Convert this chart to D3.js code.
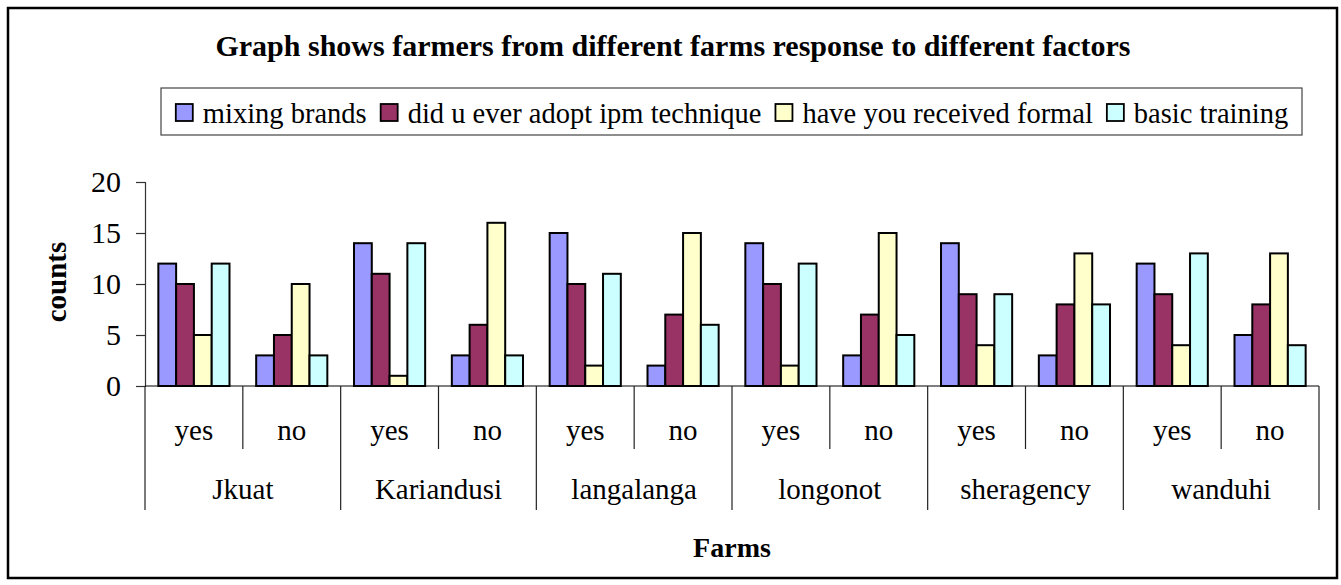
<!DOCTYPE html>
<html>
<head>
<meta charset="utf-8">
<script src="https://cdn.jsdelivr.net/npm/d3@7"></script>
<style>
  html, body { margin: 0; padding: 0; background: #fff; }
  svg text { font-family: "Liberation Serif", "Times New Roman", serif; fill: #000; }
</style>
</head>
<body>
<svg id="chart" width="1341" height="585"></svg>
<script>
// Farm names and response categories
const farms = ["Jkuat", "Kariandusi", "langalanga", "longonot", "sheragency", "wanduhi"];
const responses = ["yes", "no"];

// Series names and fills
const seriesNames = ["mixing brands", "did u ever adopt ipm technique", "have you received formal", "basic training"];
const seriesColors = ["#9999FF", "#993366", "#FFFFCC", "#CCFFFF"];

// Counts per series, one value per farm/response pair (Jkuat yes, Jkuat no, Kariandusi yes, ...)
const mixingBrands = [12, 3, 14, 3, 15, 2, 14, 3, 14, 3, 12, 5];
const adoptIpm     = [10, 5, 11, 6, 10, 7, 10, 7, 9, 8, 9, 8];
const formalTrain  = [5, 10, 1, 16, 2, 15, 2, 15, 4, 13, 4, 13];
const basicTrain   = [12, 3, 14, 3, 11, 6, 12, 5, 9, 8, 13, 4];

const yTicks = [0, 5, 10, 15, 20];

const seriesValues = [mixingBrands, adoptIpm, formalTrain, basicTrain];

// Build rows keyed by farm|response
const rows = [];
farms.forEach((f, fi) => responses.forEach((r, ri) => {
  const i = fi * responses.length + ri;
  rows.push({ key: f + "|" + r, farm: f, response: r, values: seriesValues.map(s => s[i]) });
}));

const svg = d3.select("#chart");

// Outer frame
svg.append("rect")
  .attr("x", 8).attr("y", 8).attr("width", 1329).attr("height", 570)
  .attr("fill", "#fff").attr("stroke", "#000").attr("stroke-width", 2.5);

// Title
svg.append("text")
  .attr("x", 673).attr("y", 56)
  .attr("text-anchor", "middle")
  .attr("font-weight", "bold")
  .attr("font-size", 30)
  .text("Graph shows farmers from different farms response to different factors");

// Plot geometry
const plot = { left: 145, right: 1319, top: 182, bottom: 386 };

// One slot per farm/response pair; bars occupy 4 of 5.5 bar widths (gap width 150%)
const slot = d3.scaleBand()
  .domain(rows.map(d => d.key))
  .range([plot.left, plot.right]);

const x1 = d3.scaleBand()
  .domain(d3.range(seriesNames.length))
  .range([0, slot.bandwidth() * 4 / 5.5]);

const y = d3.scaleLinear().domain([0, 20]).range([plot.bottom, plot.top]);

// Y axis
const yAxis = d3.axisLeft(y).tickValues(yTicks).tickSize(9).tickPadding(15);
const yG = svg.append("g")
  .attr("transform", `translate(${plot.left},0)`)
  .call(yAxis);
yG.select(".domain").attr("stroke", "#333").attr("stroke-width", 1.2);
yG.selectAll(".tick line").attr("stroke", "#333").attr("stroke-width", 1.2);
yG.selectAll(".tick text")
  .attr("font-family", "Liberation Serif, serif")
  .attr("font-size", 30)
  .attr("fill", "#000");

// Y axis title
svg.append("text")
  .attr("transform", `translate(66,${(plot.top + plot.bottom) / 2 - 2}) rotate(-90)`)
  .attr("text-anchor", "middle")
  .attr("font-weight", "bold")
  .attr("font-size", 29)
  .text("counts");

// Bars
const gap = (slot.bandwidth() - x1.range()[1]) / 2;
const groups = svg.append("g").selectAll("g")
  .data(rows)
  .join("g")
  .attr("transform", d => `translate(${slot(d.key) + gap},0)`);

groups.selectAll("rect")
  .data(d => d.values.map((v, i) => ({ v, i })))
  .join("rect")
  .attr("x", d => x1(d.i))
  .attr("y", d => y(d.v))
  .attr("width", x1.bandwidth())
  .attr("height", d => y(0) - y(d.v))
  .attr("fill", d => seriesColors[d.i])
  .attr("stroke", "#000")
  .attr("stroke-width", 2);

// Category axis baseline
svg.append("line")
  .attr("x1", plot.left).attr("x2", plot.right)
  .attr("y1", plot.bottom).attr("y2", plot.bottom)
  .attr("stroke", "#000").attr("stroke-width", 1.2);

// Dividers: short between yes/no, long between farms
const innerBottom = 449, outerBottom = 510;
const boundaries = rows.map(d => slot(d.key)).concat([plot.right]);
svg.append("g").selectAll("line")
  .data(boundaries)
  .join("line")
  .attr("x1", d => d).attr("x2", d => d)
  .attr("y1", plot.bottom)
  .attr("y2", (d, i) => (i % responses.length === 0) ? outerBottom : innerBottom)
  .attr("stroke", "#222").attr("stroke-width", 1.2);

// Response labels
svg.append("g").selectAll("text")
  .data(rows)
  .join("text")
  .attr("x", d => slot(d.key) + slot.bandwidth() / 2)
  .attr("y", 440)
  .attr("text-anchor", "middle")
  .attr("font-size", 29)
  .text(d => d.response);

// Farm labels
svg.append("g").selectAll("text")
  .data(farms)
  .join("text")
  .attr("x", f => slot(f + "|yes") + slot.bandwidth())
  .attr("y", 499)
  .attr("text-anchor", "middle")
  .attr("font-size", 29)
  .text(f => f);

// X axis title
svg.append("text")
  .attr("x", (plot.left + plot.right) / 2)
  .attr("y", 557)
  .attr("text-anchor", "middle")
  .attr("font-weight", "bold")
  .attr("font-size", 28)
  .text("Farms");

// Legend: items laid out left to right inside a framed box
const legend = { left: 161, top: 88, right: 1302, bottom: 135 };
svg.append("rect")
  .attr("x", legend.left).attr("y", legend.top)
  .attr("width", legend.right - legend.left).attr("height", legend.bottom - legend.top)
  .attr("fill", "#fff").attr("stroke", "#444").attr("stroke-width", 1.2);

const lg = svg.append("g");
const swatch = 17, swatchGap = 11, itemGap = 13;
const items = lg.selectAll("g").data(seriesNames).join("g");
items.append("rect")
  .attr("x", 1)
  .attr("width", swatch).attr("height", swatch)
  .attr("y", -swatch / 2)
  .attr("fill", (d, i) => seriesColors[i])
  .attr("stroke", "#000").attr("stroke-width", 1.8);
items.append("text")
  .attr("x", swatch + swatchGap)
  .attr("y", 10)
  .attr("font-size", 28.5)
  .text(d => d);

// Position items sequentially, centred in the box
const widths = items.nodes().map(n => swatch + swatchGap + n.querySelector("text").getComputedTextLength());
const total = d3.sum(widths) + itemGap * (widths.length - 1);
let cx = (legend.left + legend.right) / 2 - total / 2;
items.attr("transform", (d, i) => {
  const t = `translate(${cx},${(legend.top + legend.bottom) / 2 + 1})`;
  cx += widths[i] + itemGap;
  return t;
});
</script>
</body>
</html>
